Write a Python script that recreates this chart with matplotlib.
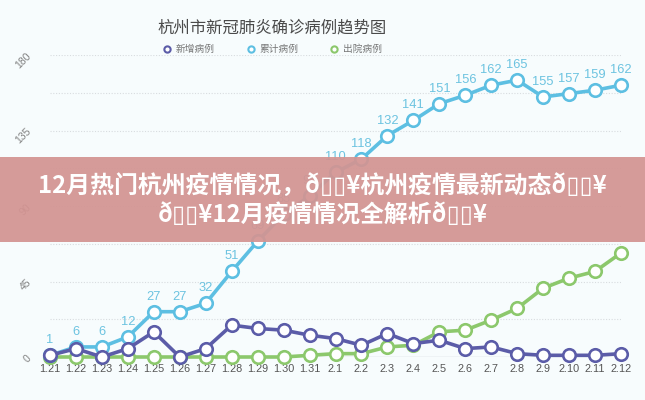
import matplotlib
matplotlib.use("Agg")
import matplotlib.pyplot as plt
from matplotlib.lines import Line2D
from matplotlib.patches import Rectangle

plt.rcParams['font.family'] = ['Noto Sans CJK SC', 'DejaVu Sans']

# data
dates = ['1.21', '1.22', '1.23', '1.24', '1.25', '1.26', '1.27', '1.28', '1.29', '1.30', '1.31',
         '2.1', '2.2', '2.3', '2.4', '2.5', '2.6', '2.7', '2.8', '2.9', '2.10', '2.11', '2.12']
new_cases = [1, 5, 0, 5, 15, 0, 5, 19, 17, 16, 13, 11, 7, 14, 8, 10, 5, 6, 2, 1, 1, 1, 2]
total_cases = [1, 6, 6, 12, 27, 27, 32, 51, 69, 85, 96, 110, 118, 132, 141, 151, 156, 162,
               165, 155, 157, 159, 162]
recovered = [0, 0, 0, 0, 0, 0, 0, 0, 0, 0, 1, 2, 2, 6, 7, 15, 16, 22, 29, 41, 47, 51, 62]
y_ticks = [0, 45, 90, 135, 180]

series_names = ['新增病例', '累计病例', '出院病例']
colors = ['#5b5ca8', '#5dbfe2', '#8cc86c']

bg = '#f7fcfd'
fig = plt.figure(figsize=(6.45, 4.0), dpi=100, facecolor=bg)
ax = fig.add_axes([50 / 645, 43 / 400, 571 / 645, 302 / 400], facecolor=bg)

x = list(range(len(dates)))

for yy in [22.5, 45, 67.5, 90, 112.5, 135, 157.5, 180]:
    ax.axhline(yy, color='#d8dcdf', lw=0.8, ls=(0, (1, 1.5)), zorder=1)
ax.axhline(0, color='#cdd3d8', lw=1.0, zorder=1)

for vals, c, z in [(recovered, colors[2], 3), (total_cases, colors[1], 4), (new_cases, colors[0], 5)]:
    ax.plot(x, vals, color=c, lw=2.6, marker='o', markersize=9, markerfacecolor='white',
            markeredgecolor=c, markeredgewidth=1.9, clip_on=False, zorder=z)

for xi, v in zip(x, total_cases):
    ax.annotate(str(v), (xi, v), xytext=(0, 15), textcoords='offset pixels',
                ha='center', va='center', fontsize=9.3, color='#6cc3e0',
                family=['Liberation Sans', 'DejaVu Sans'], zorder=6)

ax.set_xlim(0, len(dates) - 1)
ax.set_ylim(0, 180)
ax.set_xticks(x)
ax.set_xticklabels(dates, fontsize=7.8, color='#555555', family=['Liberation Sans', 'DejaVu Sans'])
ax.set_yticks(y_ticks)
ax.set_yticklabels([str(t) for t in y_ticks], fontsize=7.5, color='#808080', rotation=45,
                   family=['Liberation Sans', 'DejaVu Sans'])
ax.tick_params(axis='x', length=0, pad=5)
ax.tick_params(axis='y', length=0, pad=12)
for s in ax.spines.values():
    s.set_visible(False)

fig.text(0.422, 1 - 28 / 400, '杭州市新冠肺炎确诊病例趋势图', ha='center', va='center',
         fontsize=11.8, color='#4a4a4a', fontweight='medium')

handles = [Line2D([], [], ls='none', marker='o', markersize=4.5, markerfacecolor='white',
                  markeredgecolor=c, markeredgewidth=1.5) for c in colors]
fig.legend(handles, series_names, loc='center', bbox_to_anchor=(0.422, 1 - 49 / 400), ncol=3,
           frameon=False, fontsize=7, labelcolor='#777777', handletextpad=0.4,
           columnspacing=3.2, handlelength=1.0)

# overlay banner
fig.patches.append(Rectangle((0, 1 - 242 / 400), 1, 85 / 400, transform=fig.transFigure,
                             facecolor='#d39492', alpha=0.93, zorder=10))
fig.text(0.5, 1 - 186 / 400, '12月热门杭州疫情情况，ð▯▯¥杭州疫情最新动态ð▯▯¥', ha='center',
         va='center', fontsize=17.2, color='white', fontweight='bold', zorder=11)
fig.text(0.5, 1 - 215 / 400, 'ð▯▯¥12月疫情情况全解析ð▯▯¥', ha='center',
         va='center', fontsize=17.2, color='white', fontweight='bold', zorder=11)

fig.savefig('out.png', dpi=100, facecolor=bg)
